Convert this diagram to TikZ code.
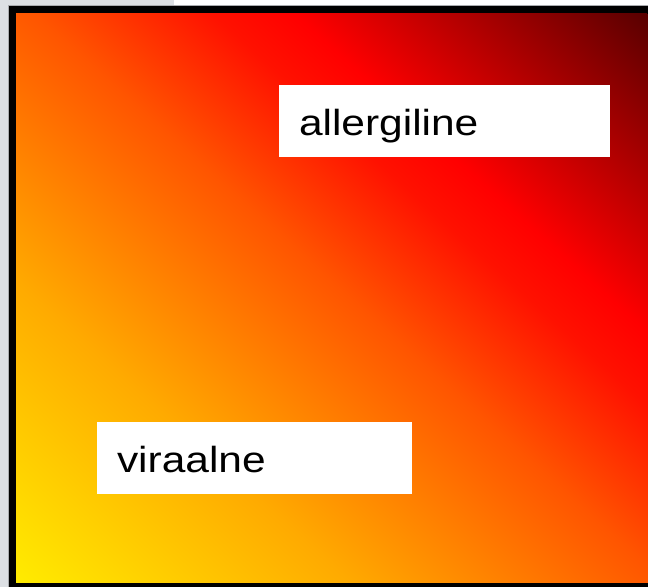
\documentclass[tikz,border=0pt]{standalone}
\usepackage{fontspec}
\newfontfamily\labfont[FakeStretch=1.17]{Liberation Sans}
\pgfdeclarehorizontalshading{heatgrad}{120bp}{rgb(0bp)=(1,0.925,0); rgb(26.5bp)=(1,0.667,0); rgb(51.4bp)=(1,0.333,0); rgb(65.6bp)=(1,0.067,0); rgb(72bp)=(1,0,0); rgb(100bp)=(0.345,0,0)}
\definecolor{bggray}{HTML}{DCDFE3}
\definecolor{edgegray}{HTML}{A9ABAE}
\begin{document}
\begin{tikzpicture}[x=1bp,y=1bp,
  labelbox/.style={fill=white, inner ysep=0pt, inner xsep=20bp, outer sep=0pt,
    anchor=north west, align=left, text=black,
    font=\labfont\fontsize{36.3bp}{40bp}\selectfont}]
\useasboundingbox (0,0) rectangle (648,587);
\fill[bggray] (0,0) rectangle (648,587);
\fill[white] (174,582) rectangle (648,587);
\fill[black] (8,-10) rectangle (660,581.5);
\draw[edgegray, line width=0.8bp] (8,-10) -- (8,581.5) -- (660,581.5);
\begin{scope}
  \clip (16,4) rectangle (648,573);
  \begin{scope}[cm={6.32,5.69,6.32,-5.69,(-363.2,345.4)}]
    \node[inner sep=0pt, outer sep=0pt, anchor=south west, transform shape] (grad) at (0,0) {\pgfuseshading{heatgrad}};
  \end{scope}
\end{scope}
\node[labelbox, text width=291bp, text height=51bp, text depth=21bp] (allerg) at (279,502) {allergiline};
\node[labelbox, text width=275bp, text height=51bp, text depth=21bp] (viral) at (97,165) {viraalne};
\end{tikzpicture}
\end{document}
